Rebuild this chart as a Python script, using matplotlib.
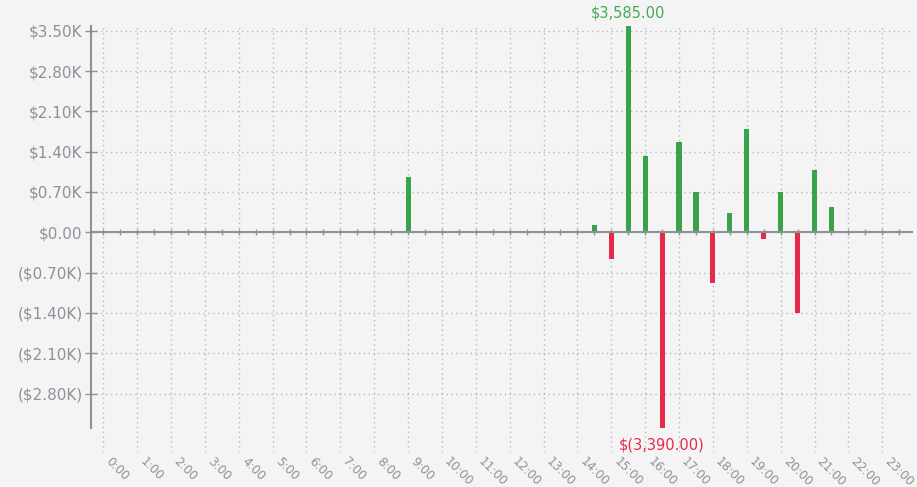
import matplotlib
matplotlib.use("Agg")
import matplotlib.pyplot as plt
from matplotlib.ticker import FuncFormatter, FixedLocator

# Data: 48 half-hour slots (0:00 .. 23:30)
hour_labels = [f"{h}:00" for h in range(24)]
slot_hours = [h / 2 for h in range(48)]
pnl = [
    0, 0, 0, 0, 0, 0, 0, 0, 0, 0, 0, 0,          # 0:00 - 5:30
    0, 0, 0, 0, 0, 0, 960, 0, 0, 0, 0, 0,        # 6:00 - 11:30
    0, 0, 0, 0, 0, 125, -470, 3585, 1330, -3390, 1560, 695,  # 12:00 - 17:30
    -885, 340, 1795, -115, 695, -1400, 1080, 435, 0, 0, 0, 0,  # 18:00 - 23:30
]
y_ticks = [-2800, -2100, -1400, -700, 0, 700, 1400, 2100, 2800, 3500]

BG = "#f4f4f4"
GREEN = "#39a34a"
RED = "#e8294b"
AXC = "#8d9199"
TXT = "#8d9199"
GRID = "#b9b9b9"

fig = plt.figure(figsize=(9.17, 4.87), dpi=100, facecolor=BG)
ax = fig.add_axes([91 / 917, 1 - 452 / 487, (911.7 - 91) / 917, (452 - 25.8) / 487])
ax.set_facecolor(BG)

ymax = max(pnl)
ymin = min(pnl)
colors = [GREEN if v >= 0 else RED for v in pnl]
ax.bar(slot_hours, pnl, width=0.15, color=colors, linewidth=0, zorder=3)

ax.set_xlim(-0.363, 23.87)
ax.set_ylim(-3814, ymax)

# spines
for s in ["top", "right"]:
    ax.spines[s].set_visible(False)
ax.spines["left"].set_bounds(ymin, ymax)
ax.spines["left"].set_color(AXC)
ax.spines["left"].set_linewidth(1.5)
ax.spines["bottom"].set_position(("data", 0))
ax.spines["bottom"].set_color(AXC)
ax.spines["bottom"].set_linewidth(1.5)
ax.spines["bottom"].set_zorder(4)

# y axis
ax.yaxis.set_major_locator(FixedLocator(y_ticks))

def yfmt(v, pos):
    if abs(v) < 1e-9:
        return "$0.00"
    if v > 0:
        return f"${v / 1000:.2f}K"
    return f"(${abs(v) / 1000:.2f}K)"

ax.yaxis.set_major_formatter(FuncFormatter(yfmt))
ax.tick_params(axis="y", direction="inout", length=8, width=1, color=AXC,
               labelcolor=TXT, labelsize=11, pad=2)

# x axis ticks on zero line
ax.xaxis.set_major_locator(FixedLocator(list(range(24))))
ax.xaxis.set_minor_locator(FixedLocator([h + 0.5 for h in range(24)]))
ax.tick_params(axis="x", which="both", direction="inout", length=4, width=1,
               color=AXC, labelbottom=False)

# grid
ax.grid(True, which="major", axis="both", color=GRID, linestyle=(0, (1, 2.5)),
        linewidth=1, zorder=0)

# secondary x axis at bottom for labels
sec = ax.secondary_xaxis(0.0)
sec.set_xticks(list(range(24)))
sec.set_xticklabels(hour_labels)
sec.spines["bottom"].set_visible(False)
sec.tick_params(axis="x", length=0, pad=2, labelsize=8.7, labelcolor=TXT)
for lbl in sec.get_xticklabels():
    lbl.set_rotation(-45)
    lbl.set_ha("left")
    lbl.set_va("top")

# extreme value labels
imax = pnl.index(ymax)
imin = pnl.index(ymin)
ax.annotate(f"${ymax:,.2f}", (slot_hours[imax], ymax), xytext=(0, 4),
            textcoords="offset points", ha="center", va="bottom",
            color="#44ab53", fontsize=10.5, annotation_clip=False)
ax.annotate(f"$({abs(ymin):,.2f})", (slot_hours[imin], ymin), xytext=(0, -7),
            textcoords="offset points", ha="center", va="top",
            color=RED, fontsize=10.5, annotation_clip=False)

fig.savefig("out.png", dpi=100, facecolor=BG)
